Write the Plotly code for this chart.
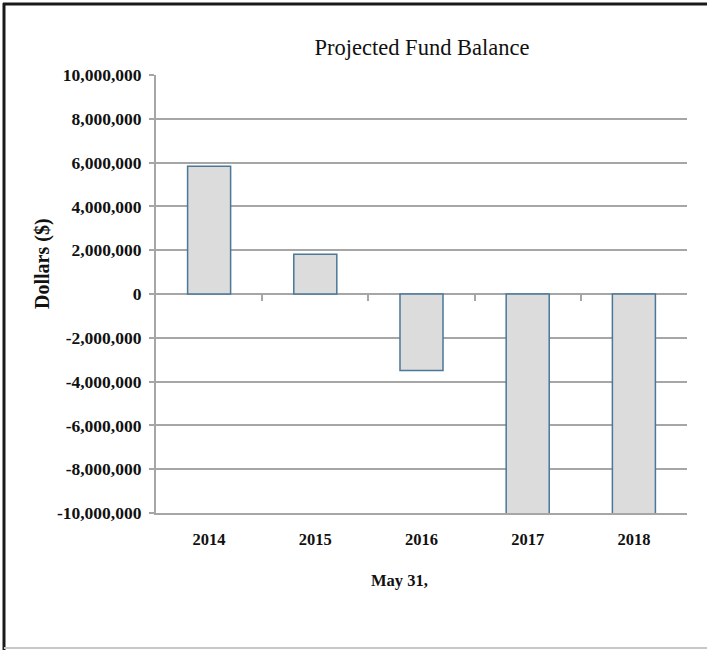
import plotly.graph_objects as go

# Fund balance projection as of May 31 each year
years = ["2014", "2015", "2016", "2017", "2018"]
balances = [5830000, 1810000, -3490000, -12500000, -17000000]

y_ticks = list(range(-10000000, 10000001, 2000000))
y_tick_text = [f"{v:,}" for v in y_ticks]

W, H = 707, 650
L, R, T, B = 156, 20, 75, 137  # plot-area margins in pixels

SERIF = "Liberation Serif, Times New Roman, serif"
GRID = "#a6a6a6"
INK = "#111111"


def px_x(x):
    return (x - L) / (W - L - R)


def px_y(y):
    return (H - B - y) / (H - T - B)


fig = go.Figure()
fig.add_trace(go.Bar(
    x=years,
    y=balances,
    marker=dict(color="#dcdcdc", line=dict(color="#4a7898", width=1.5)),
    width=0.405,
    showlegend=False,
))

fig.update_layout(
    width=W,
    height=H,
    margin=dict(l=L, r=R, t=T, b=B),
    paper_bgcolor="white",
    plot_bgcolor="white",
    font=dict(family=SERIF, color=INK),
    title=dict(
        text="Projected Fund Balance",
        font=dict(family=SERIF, size=22.5, color=INK),
        x=px_x(422), xref="paper", xanchor="center",
        y=1 - 47 / H, yref="container", yanchor="middle",
    ),
    xaxis=dict(
        type="category",
        showline=True, linecolor=GRID, linewidth=2,
        ticks="", showgrid=False,
        tickfont=dict(family=SERIF, size=16.5, color=INK, weight="bold"),
        ticklabelstandoff=10,
    ),
    xaxis2=dict(
        overlaying="x", anchor="free", position=0.5,
        range=[-0.5, 4.5], tickvals=[0.5, 1.5, 2.5, 3.5],
        ticks="outside", ticklen=6, tickcolor=GRID, tickwidth=2,
        showticklabels=False, showline=False, showgrid=False, zeroline=False,
    ),
    yaxis=dict(
        range=[-10000000, 10000000],
        tickvals=y_ticks,
        ticktext=y_tick_text,
        showgrid=True, gridcolor=GRID, gridwidth=2,
        zeroline=True, zerolinecolor=GRID, zerolinewidth=2,
        showline=True, linecolor=GRID, linewidth=2,
        ticks="outside", ticklen=5, tickcolor=GRID, tickwidth=2,
        tickfont=dict(family=SERIF, size=17.5, color=INK, weight="bold"),
        ticklabelstandoff=4,
    ),
    annotations=[
        dict(text="<b>Dollars ($)</b>", xref="paper", yref="paper",
             x=px_x(42), y=px_y(264), textangle=-90, showarrow=False,
             xanchor="center", yanchor="middle",
             font=dict(family=SERIF, size=20, color=INK)),
        dict(text="<b>May 31,</b>", xref="paper", yref="paper",
             x=px_x(399), y=px_y(580), showarrow=False,
             xanchor="center", yanchor="middle",
             font=dict(family=SERIF, size=16.5, color=INK)),
    ],
    shapes=[
        dict(type="line", xref="paper", yref="paper",
             x0=px_x(4), x1=px_x(4), y0=px_y(3), y1=px_y(650),
             line=dict(color="#1a1a1a", width=3)),
        dict(type="line", xref="paper", yref="paper",
             x0=px_x(3), x1=px_x(707), y0=px_y(4), y1=px_y(4),
             line=dict(color="#1a1a1a", width=3)),
        dict(type="line", xref="paper", yref="paper",
             x0=px_x(4), x1=px_x(707), y0=px_y(648), y1=px_y(648),
             line=dict(color="#c8c8c8", width=2)),
    ],
)

# invisible trace to activate the tick-only axis at the zero line
fig.add_trace(go.Scatter(x=[None], y=[None], xaxis="x2", showlegend=False,
                         hoverinfo="skip"))

fig.write_html("out.html")
